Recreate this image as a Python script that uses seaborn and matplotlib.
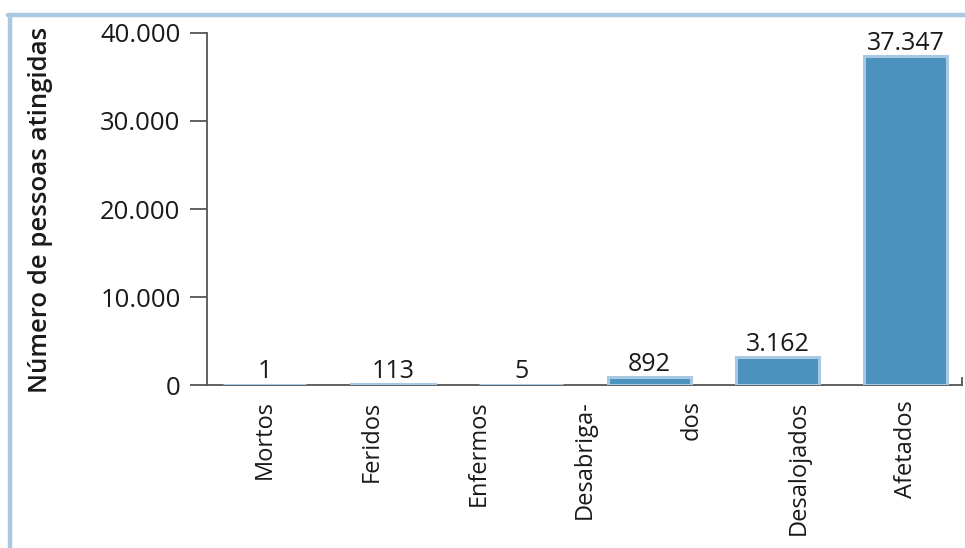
import numpy as np
import pandas as pd
import matplotlib
matplotlib.use('Agg')
import matplotlib.pyplot as plt
from matplotlib.lines import Line2D
import seaborn as sns

### ------------------- dados ----------------------
categorias = ['Mortos', 'Feridos', 'Enfermos', 'Desabrigados', 'Desalojados', 'Afetados']
valores = [1, 113, 5, 892, 3162, 37347]
# rótulos do eixo x como aparecem no original (Desabriga-/dos quebrado em dois)
rotulos_x = ['Mortos', 'Feridos', 'Enfermos', 'Desabriga-', 'dos', 'Desalojados', 'Afetados']
ticks_y = [0, 10000, 20000, 30000, 40000]

df = pd.DataFrame({'categoria': categorias, 'valor': valores})

def fmt_br(v):
    return '{:,}'.format(int(v)).replace(',', '.')

### ------------------- visual ----------------------
sns.set_style('white')
plt.rcParams['font.family'] = ['Open Sans', 'DejaVu Sans']

cor_barra = '#4b92bf'
cor_borda = '#a9c8e1'
cor_eixo = '#555555'

fig = plt.figure(figsize=(9.65, 5.48), dpi=100)
ax = fig.add_axes([0.2145, 0.2974, 0.7825, 0.6424])

sns.barplot(data=df, x='categoria', y='valor', color=cor_barra, saturation=1,
            edgecolor=cor_borda, linewidth=2.2, width=0.65, ax=ax, zorder=3)

# valores em cima das barras
for i, v in enumerate(valores):
    ax.text(i, v + 60, fmt_br(v), ha='center', va='bottom', fontsize=18, color='#1a1a1a', zorder=4)

ax.set_xlim(-0.45, 5.44)
ax.set_ylim(0, 40000)
ax.set_yticks(ticks_y)
ax.set_yticklabels([fmt_br(t) for t in ticks_y], fontsize=18.5, color='#1a1a1a')
ax.set_xticks(np.linspace(0, 5, len(rotulos_x)))
ax.set_xticklabels(rotulos_x, rotation=90, fontsize=17, color='#1a1a1a', va='top')
ax.tick_params(axis='x', length=0, pad=11)
ax.tick_params(axis='y', left=True, length=12, width=1.3, color=cor_eixo, pad=7, direction='out')
ax.set_xlabel('')
ax.set_ylabel('')

ax.spines['top'].set_visible(False)
for s in ['left', 'bottom', 'right']:
    ax.spines[s].set_color(cor_eixo)
    ax.spines[s].set_linewidth(1.3)
ax.spines['right'].set_bounds(0, 800)

fig.text(0.0415, 0.617, 'Número de pessoas atingidas', rotation=90, ha='center', va='center',
         fontsize=18.5, color='#1a1a1a', fontweight='semibold')

# moldura azul clara (topo e esquerda)
fig.add_artist(Line2D([0.008, 1.0], [0.9726, 0.9726], color=cor_borda, lw=3.2, transform=fig.transFigure))
fig.add_artist(Line2D([0.0104, 0.0104], [0.0, 0.9726], color=cor_borda, lw=3.2, transform=fig.transFigure))

fig.savefig('out.png', dpi=100)
